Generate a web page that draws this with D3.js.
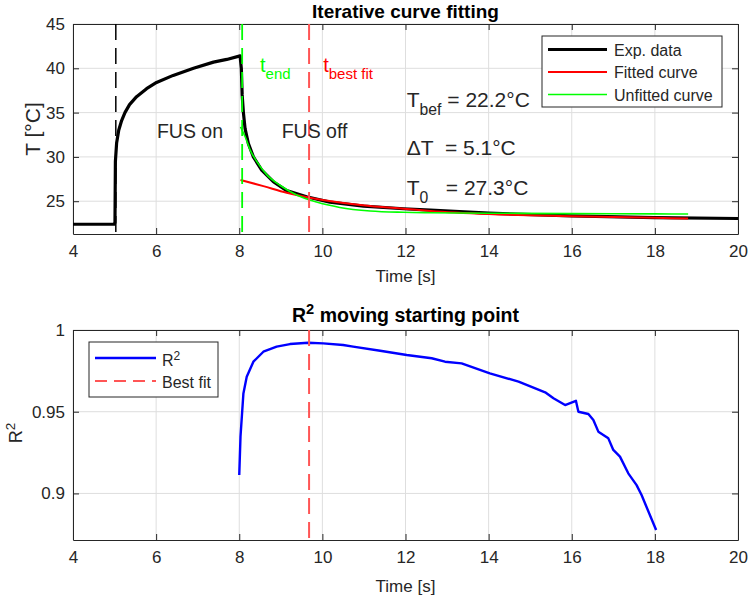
<!DOCTYPE html>
<html>
<head>
<meta charset="utf-8">
<script src="https://cdn.jsdelivr.net/npm/d3@7"></script>
<style>
body { margin: 0; background: #fff; }
svg { display: block; font-family: "Liberation Sans", Arial, sans-serif; }
</style>
</head>
<body>
<svg id="chart" width="750" height="599"></svg>
<script>
// values
const xTicks = [4, 6, 8, 10, 12, 14, 16, 18, 20];
const tempTicks = [25, 30, 35, 40, 45];
const r2Ticks = [0.9, 0.95, 1];

const expTime = [4.0, 4.5, 4.99, 5.01, 5.02, 5.05, 5.1, 5.17, 5.25, 5.36, 5.53, 5.77, 6.01, 6.41, 6.9, 7.38, 7.7, 8.02,
                 8.05, 8.07, 8.1, 8.14, 8.22, 8.34, 8.54, 8.82, 9.14, 9.62, 10.18, 10.99, 11.95, 12.6, 14.0, 16.0, 18.0, 20.0];
const expTemp = [22.4, 22.4, 22.4, 22.6, 29.5, 31.6, 33.0, 34.1, 35.0, 35.9, 36.8, 37.7, 38.4, 39.2, 40.0, 40.7, 41.0, 41.4,
                 40.0, 37.0, 35.0, 33.2, 31.5, 30.0, 28.5, 27.2, 26.2, 25.5, 24.9, 24.45, 24.15, 24.0, 23.65, 23.35, 23.15, 23.05];

const fitTime = [8.03, 8.58, 9.14, 9.7, 10.34, 11.15, 11.95, 12.6, 14.0, 16.0, 18.0, 18.8];
const fitTemp = [27.4, 26.7, 25.95, 25.4, 24.9, 24.45, 24.15, 23.9, 23.55, 23.3, 23.12, 23.05];

const unfitTime = [8.03, 8.14, 8.26, 8.42, 8.66, 8.98, 9.38, 9.86, 10.42, 11.15, 11.95, 12.6, 14.0, 16.0, 18.0, 18.8];
const unfitTemp = [33.4, 32.3, 30.8, 29.5, 28.0, 26.8, 25.7, 24.9, 24.3, 23.9, 23.75, 23.7, 23.65, 23.6, 23.57, 23.55];

const r2Time = [8.0, 8.03, 8.1, 8.18, 8.34, 8.58, 8.9, 9.22, 9.66, 10.02, 10.5, 10.74, 11.39, 12.03, 12.63, 12.95,
                13.35, 14.03, 14.72, 15.36, 15.56, 15.84, 16.1, 16.16, 16.4, 16.52, 16.64, 16.88, 17.0, 17.16, 17.36,
                17.56, 17.68, 18.03];
const r2Value = [0.9113, 0.9347, 0.9612, 0.9714, 0.9806, 0.9867, 0.9898, 0.9914, 0.9922, 0.9918, 0.9908, 0.9898,
                 0.9873, 0.9847, 0.9827, 0.9806, 0.9796, 0.9735, 0.9684, 0.9619, 0.9582, 0.9541, 0.9567, 0.95, 0.9486,
                 0.9449, 0.9378, 0.9337, 0.9266, 0.9225, 0.9123, 0.9051, 0.899, 0.8776];

const tOn = 5.03, tEnd = 8.07, tBestFit = 9.68;

(function () {
    const svg = d3.select("#chart");
    const W = 665, H = 210;
    const ink = "#262626";

    const x = d3.scaleLinear().domain([4, 20]).range([0, W]);
    const yT = d3.scaleLinear().domain([21.3, 45]).range([H, 0]);
    const yR = d3.scaleLinear().domain([0.8715, 1]).range([H, 0]);

    // text with sub/superscripts: parts = [[text, "sub"|"sup"|null], ...]
    function rich(sel, parts, size) {
        let shift = 0;
        parts.forEach(([t, k]) => {
            const target = k === "sub" ? 0.38 * size : k === "sup" ? -0.4 * size : 0;
            sel.append("tspan")
                .attr("dy", target - shift)
                .style("font-size", (k ? 0.75 * size : size) + "px")
                .text(t);
            shift = target;
        });
        return sel;
    }

    function frame(g, y, yTicks) {
        g.append("rect").attr("width", W).attr("height", H).attr("fill", "white");

        const grid = g.append("g").attr("stroke", "#dedede").attr("stroke-width", 1);
        grid.selectAll(".gx").data(xTicks).join("line")
            .attr("x1", d => x(d)).attr("x2", d => x(d)).attr("y1", 0).attr("y2", H);
        grid.selectAll(".gy").data(yTicks).join("line")
            .attr("x1", 0).attr("x2", W).attr("y1", d => y(d)).attr("y2", d => y(d));

        const axes = [
            g.append("g").attr("transform", `translate(0,${H})`)
                .call(d3.axisBottom(x).tickValues(xTicks).tickSizeInner(-6).tickSizeOuter(0).tickPadding(11)),
            g.append("g")
                .call(d3.axisTop(x).tickValues(xTicks).tickSizeInner(-6).tickSizeOuter(0).tickFormat("")),
            g.append("g")
                .call(d3.axisLeft(y).tickValues(yTicks).tickFormat(d => d)
                    .tickSizeInner(-6).tickSizeOuter(0).tickPadding(8)),
            g.append("g").attr("transform", `translate(${W},0)`)
                .call(d3.axisRight(y).tickValues(yTicks).tickSizeInner(-6).tickSizeOuter(0).tickFormat(""))
        ];
        axes.forEach(a => {
            a.selectAll("path, line").attr("stroke", ink);
            a.selectAll("text").attr("fill", ink).style("font-size", "17px");
        });
    }

    function vline(g, xv, color, width) {
        g.append("line")
            .attr("x1", x(xv)).attr("x2", x(xv)).attr("y1", 0).attr("y2", H)
            .attr("stroke", color).attr("stroke-width", width)
            .attr("stroke-dasharray", "16,8");
    }

    // ---------- top: iterative curve fitting ----------
    const top = svg.append("g").attr("transform", "translate(73,24)");
    frame(top, yT, tempTicks);

    const lineT = d3.line().x(d => x(d[0])).y(d => yT(d[1]));
    top.append("path").datum(d3.zip(expTime, expTemp))
        .attr("d", lineT).attr("fill", "none").attr("stroke", "black").attr("stroke-width", 3.2)
        .attr("stroke-linejoin", "round");
    top.append("path").datum(d3.zip(fitTime, fitTemp))
        .attr("d", lineT.curve(d3.curveMonotoneX)).attr("fill", "none").attr("stroke", "#ff0000").attr("stroke-width", 2);
    top.append("path").datum(d3.zip(unfitTime, unfitTemp))
        .attr("d", lineT.curve(d3.curveMonotoneX)).attr("fill", "none").attr("stroke", "#00ff00").attr("stroke-width", 1.6);

    vline(top, tOn, "black", 1.5);
    vline(top, tEnd, "#00ff00", 1.8);
    vline(top, tBestFit, "#ff5555", 2);

    top.append("text").attr("x", x(6.02)).attr("y", yT(32.1))
        .attr("fill", ink).style("font-size", "19.5px").text("FUS on");
    top.append("text").attr("x", x(9.02)).attr("y", yT(32.1))
        .attr("fill", ink).style("font-size", "19.5px").text("FUS off");

    rich(top.append("text").attr("x", x(8.5)).attr("y", yT(39.6)).attr("fill", "#00ff00"),
        [["t", null], ["end", "sub"]], 20);
    rich(top.append("text").attr("x", x(10.02)).attr("y", yT(39.6)).attr("fill", "#ff0000"),
        [["t", null], ["best fit", "sub"]], 20);

    const note = (yv, parts) => rich(top.append("text").attr("x", x(12.03)).attr("y", yT(yv))
        .attr("fill", ink).style("white-space", "pre"), parts, 21);
    note(35.6, [["T", null], ["bef", "sub"], [" = 22.2°C", null]]);
    note(30.2, [["\u0394T  = 5.1°C", null]]);
    note(25.7, [["T", null], ["0", "sub"], ["   = 27.3°C", null]]);

    svg.append("text").attr("x", 405.5).attr("y", 18).attr("text-anchor", "middle")
        .attr("fill", "black").style("font-size", "19px").style("font-weight", "bold")
        .text("Iterative curve fitting");
    svg.append("text").attr("x", 405.5).attr("y", 282).attr("text-anchor", "middle")
        .attr("fill", ink).style("font-size", "17px").text("Time [s]");
    svg.append("text").attr("transform", "translate(40,129) rotate(-90)").attr("text-anchor", "middle")
        .attr("fill", ink).style("font-size", "21px").text("T [°C]");

    // legend (top)
    const legT = svg.append("g").attr("transform", "translate(542,36)");
    legT.append("rect").attr("width", 180).attr("height", 71)
        .attr("fill", "white").attr("stroke", ink).attr("stroke-width", 1);
    [["Exp. data", "black", 3.2], ["Fitted curve", "#ff0000", 2], ["Unfitted curve", "#00ff00", 1.6]]
        .forEach(([label, color, w], i) => {
            const yy = 13.5 + i * 22.5;
            legT.append("line").attr("x1", 6).attr("x2", 65).attr("y1", yy).attr("y2", yy)
                .attr("stroke", color).attr("stroke-width", w);
            legT.append("text").attr("x", 72).attr("y", yy + 6).attr("fill", ink)
                .style("font-size", "16px").text(label);
        });

    // ---------- bottom: R^2 moving starting point ----------
    const bot = svg.append("g").attr("transform", "translate(73,330)");
    frame(bot, yR, r2Ticks);

    bot.append("path").datum(d3.zip(r2Time, r2Value))
        .attr("d", d3.line().x(d => x(d[0])).y(d => yR(d[1])))
        .attr("fill", "none").attr("stroke", "#0000ff").attr("stroke-width", 2.4)
        .attr("stroke-linejoin", "round");
    vline(bot, tBestFit, "#ff5555", 2);

    rich(svg.append("text").attr("x", 405.5).attr("y", 322).attr("text-anchor", "middle")
        .attr("fill", "black").style("font-weight", "bold"),
        [["R", null], ["2", "sup"], [" moving starting point", null]], 19.5);
    svg.append("text").attr("x", 405.5).attr("y", 592).attr("text-anchor", "middle")
        .attr("fill", ink).style("font-size", "17px").text("Time [s]");
    rich(svg.append("text").attr("transform", "translate(22,433) rotate(-90)").attr("text-anchor", "middle")
        .attr("fill", ink), [["R", null], ["2", "sup"]], 18);

    // legend (bottom)
    const legR = svg.append("g").attr("transform", "translate(89,342)");
    legR.append("rect").attr("width", 129).attr("height", 55)
        .attr("fill", "white").attr("stroke", ink).attr("stroke-width", 1);
    legR.append("line").attr("x1", 6).attr("x2", 67).attr("y1", 16).attr("y2", 16)
        .attr("stroke", "#0000ff").attr("stroke-width", 2.4);
    rich(legR.append("text").attr("x", 73).attr("y", 24).attr("fill", ink), [["R", null], ["2", "sup"]], 16);
    legR.append("line").attr("x1", 6).attr("x2", 67).attr("y1", 39).attr("y2", 39)
        .attr("stroke", "#ff5555").attr("stroke-width", 2).attr("stroke-dasharray", "12,7");
    legR.append("text").attr("x", 73).attr("y", 46).attr("fill", ink)
        .style("font-size", "16px").text("Best fit");
})();
</script>
</body>
</html>
